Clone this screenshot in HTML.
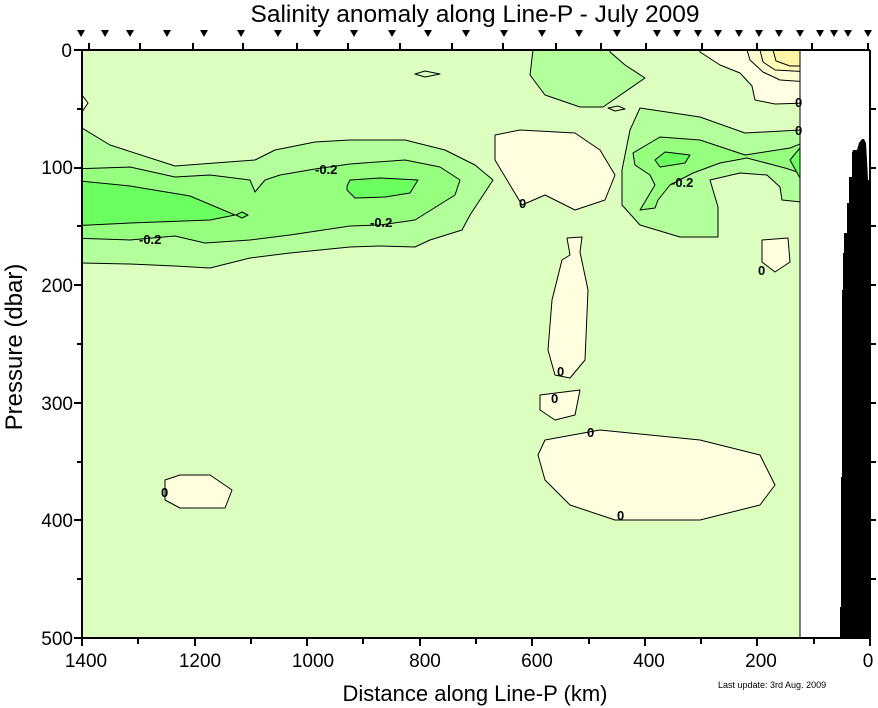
<!DOCTYPE html>
<html><head><meta charset="utf-8"><style>
body{margin:0;background:#fff;}
svg{display:block;font-family:"Liberation Sans",Arial,sans-serif;}
</style></head><body>
<svg width="878" height="708" viewBox="0 0 878 708" xmlns="http://www.w3.org/2000/svg">
<defs><clipPath id="pc"><rect x="82" y="50" width="718" height="588"/></clipPath></defs>
<rect x="82" y="50" width="718" height="588" fill="#DCFFC0"/>
<g clip-path="url(#pc)" stroke="#000" stroke-width="1" stroke-linejoin="round">
<path fill="#B2FF9C" d="M70,128 L82,128 L110,145 L175,166 L255,160 L275,150 L315,142 L350,140 L405,140 L445,150 L475,165 L493,180 L470,215 L462,230 L430,240 L415,247 L380,246 L350,247 L290,253 L250,258 L210,268 L175,266 L130,264 L82,263 L70,263 Z"/>
<path fill="#96FF80" d="M70,169 L130,167 L175,177 L210,175 L250,180 L255,192 L265,180 L280,175 L315,169 L350,164 L405,160 L440,167 L460,180 L455,195 L415,220 L380,225 L350,226 L290,235 L250,240 L205,243 L175,236 L130,240 L70,238 Z"/>
<path fill="#6CFF60" d="M70,180 L130,186 L190,196 L235,215 L210,220 L130,223 L70,226 Z"/>
<path fill="#6CFF60" d="M242,212 L248,215 L242,218 L236,215 Z"/>
<path fill="#6CFF60" d="M347,186 L350,180 L380,178 L418,180 L410,193 L385,197 L355,198 L347,190 Z"/>
<path fill="#B2FF9C" d="M533,40 L533,50 L530,75 L545,95 L580,107 L603,107 L645,78 L625,65 L610,52 L612,40 Z"/>
<path fill="#FFFFE4" d="M700,40 L700,52 L720,65 L740,73 L752,86 L755,100 L775,104 L810,103 L810,40 Z"/>
<path fill="#FFFFD4" d="M747,40 L747,50 L750,60 L763,72 L780,80 L810,82 L810,40 Z"/>
<path fill="#FFFCBC" d="M760,40 L760,50 L763,62 L775,70 L810,72 L810,40 Z"/>
<path fill="#FFF5A4" d="M773,40 L773,50 L776,61 L790,66 L810,66 L810,40 Z"/>
<path fill="#B2FF9C" d="M810,130 L800,130 L745,133 L700,117 L640,108 L630,130 L622,170 L622,205 L640,225 L680,237 L718,237 L718,207 L710,180 L740,173 L767,175 L780,187 L782,200 L810,203 Z"/>
<path fill="#96FF80" d="M633,153 L660,137 L700,140 L745,155 L790,148 L810,140 L810,176 L785,168 L747,158 L720,163 L693,173 L670,185 L658,200 L655,208 L640,210 L655,185 L650,175 L635,165 Z"/>
<path fill="#6CFF60" d="M655,160 L665,152 L690,155 L685,163 L660,167 Z"/>
<path fill="#6CFF60" d="M790,160 L800,148 L810,148 L810,178 L800,178 Z"/>
<path fill="#FFFFE0" d="M495,135 L520,130 L575,133 L600,150 L615,175 L605,200 L575,210 L545,195 L522,205 L510,185 L495,160 Z"/>
<path fill="#FFFFE0" d="M567,238 L582,237 L580,252 L588,290 L585,360 L570,378 L555,375 L548,350 L552,300 L562,260 L570,255 Z"/>
<path fill="#FFFFE0" d="M540,395 L580,390 L575,415 L555,420 L540,410 Z"/>
<path fill="#FFFFE0" d="M545,440 L600,430 L700,440 L760,455 L775,485 L760,505 L700,520 L615,520 L570,505 L545,480 L538,455 Z"/>
<path fill="#FFFFE0" d="M165,480 L180,475 L210,475 L232,490 L225,508 L180,508 L165,500 Z"/>
<path fill="#FFFFE0" d="M762,240 L788,238 L790,262 L775,272 L762,262 Z"/>
<path fill="#FFFFE0" d="M75,95 L82,95 L88,103 L82,112 L75,112 Z"/>
<path fill="none" d="M415,74 L425,71 L440,74 L425,77 Z"/>
<path fill="none" d="M608,108 L618,106 L625,109 L615,111 Z"/>
</g>
<g font-size="13" font-weight="bold" fill="#000">
<text x="315" y="174">-0.2</text>
<text x="370" y="227">-0.2</text>
<text x="139" y="244">-0.2</text>
<text x="671" y="187">-0.2</text>
<text x="519" y="208">0</text>
<text x="758" y="275">0</text>
<text x="557" y="376">0</text>
<text x="551" y="403">0</text>
<text x="587" y="437">0</text>
<text x="617" y="520">0</text>
<text x="161" y="497">0</text>
<text x="795" y="107">0</text>
<text x="795" y="135">0</text>
</g>
<path fill="#000" d="M840,638 L840,607 L841,607 L841,477 L842,477 L842,290 L843,290 L843,253 L844,253 L844,233 L847,233 L847,203 L849,203 L849,177 L852,177 L852,153 L853,150 L857,150 L859,143 L862,139 L864,139 L866,143 L867,160 L868,180 L870,180 L870,638 Z"/>
<g stroke="#000" stroke-width="2" fill="none">
<path d="M82,50 L870,50 M82,50 L82,638 L870,638 M870,50 L870,638"/>
</g>
<line x1="800" y1="50" x2="800" y2="638" stroke="#000" stroke-width="1"/>
<g stroke="#000" stroke-width="2">
<path d="M74,50H82 M77,109H82 M74,168H82 M77,226H82 M74,285H82 M77,344H82 M74,403H82 M77,462H82 M74,520H82 M77,579H82 M74,638H82"/>
<path d="M870,109H876 M870,168H876 M870,226H876 M870,285H876 M870,344H876 M870,403H876 M870,462H876 M870,520H876 M870,579H876"/>
<path d="M82,638V646 M138,638V644 M195,638V646 M251,638V644 M307,638V646 M363,638V644 M420,638V646 M476,638V644 M532,638V646 M589,638V644 M645,638V646 M701,638V644 M757,638V646 M814,638V644 M870,638V646"/>
<path d="M89,50V43 M140,50V43 M193,50V43 M243,50V43 M297,50V43 M348,50V43 M400,50V43 M452,50V43 M503,50V43 M556,50V43 M601,50V43 M646,50V43 M702,50V43 M757,50V43 M812,50V43 M868,50V43"/>
</g>
<g fill="#000">
<path d="M77,30h8l-4,7z M101,30h8l-4,7z M126,30h8l-4,7z M163,30h8l-4,7z M200,30h8l-4,7z M237,30h8l-4,7z M274,30h8l-4,7z M313,30h8l-4,7z M350,30h8l-4,7z M388,30h8l-4,7z M424,30h8l-4,7z M462,30h8l-4,7z M500,30h8l-4,7z M538,30h8l-4,7z M575,30h8l-4,7z M613,30h8l-4,7z M653,30h8l-4,7z M673,30h8l-4,7z M694,30h8l-4,7z M714,30h8l-4,7z M735,30h8l-4,7z M755,30h8l-4,7z M775,30h8l-4,7z M796,30h8l-4,7z M816,30h8l-4,7z M830,30h8l-4,7z M844,30h8l-4,7z M864,30h8l-4,7z"/>
</g>
<g font-size="19" fill="#000" text-anchor="end">
<text x="72" y="57">0</text>
<text x="73" y="174">100</text>
<text x="73" y="292">200</text>
<text x="73" y="410">300</text>
<text x="73" y="527">400</text>
<text x="73" y="645">500</text>
</g>
<g font-size="19" fill="#000" text-anchor="middle">
<text x="86" y="667">1400</text>
<text x="200" y="667">1200</text>
<text x="313" y="667">1000</text>
<text x="425" y="667">800</text>
<text x="537" y="667">600</text>
<text x="649" y="667">400</text>
<text x="761" y="667">200</text>
<text x="868" y="667">0</text>
</g>
<text x="475" y="22" font-size="24.5" text-anchor="middle">Salinity anomaly along Line-P - July 2009</text>
<text x="475" y="701" font-size="22" text-anchor="middle">Distance along Line-P (km)</text>
<text transform="translate(22,347) rotate(-90)" font-size="24" text-anchor="middle">Pressure (dbar)</text>
<text x="718" y="688" font-size="9">Last update: 3rd Aug. 2009</text>
</svg>
</body></html>
